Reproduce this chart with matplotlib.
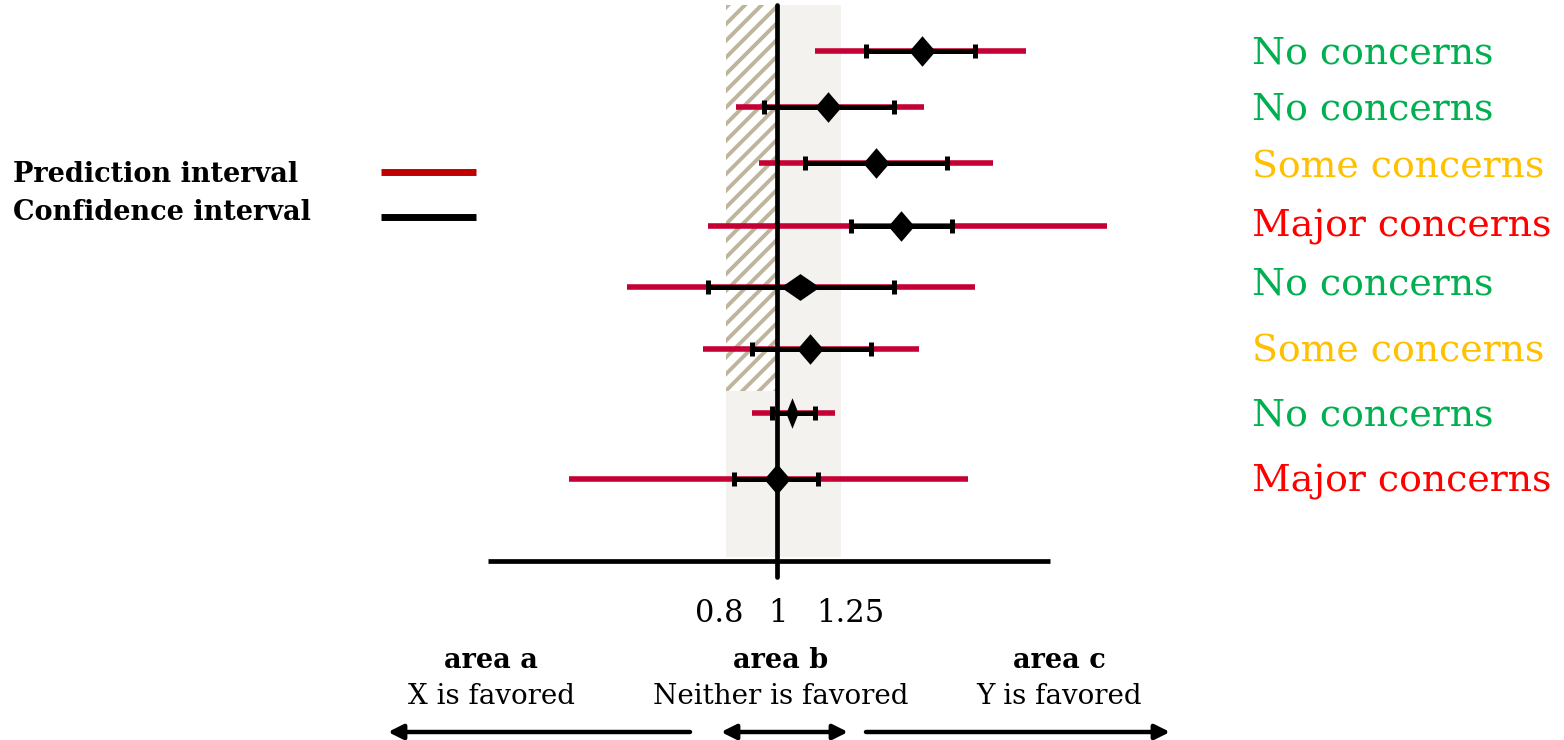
import matplotlib
matplotlib.use("Agg")
import matplotlib.pyplot as plt
from matplotlib.patches import Rectangle, FancyArrowPatch
from matplotlib.path import Path

# ---------------- data ----------------
labels = ["No concerns", "No concerns", "Some concerns", "Major concerns",
          "No concerns", "Some concerns", "No concerns", "Major concerns"]
label_colors = ["#00B050", "#00B050", "#FFC000", "#FF0000",
                "#00B050", "#FFC000", "#00B050", "#FF0000"]
est = [1.57, 1.20, 1.39, 1.49, 1.09, 1.13, 1.06, 1.00]
ci_lo = [1.35, 0.95, 1.11, 1.29, 0.73, 0.90, 0.98, 0.83]
ci_hi = [1.78, 1.46, 1.67, 1.69, 1.46, 1.37, 1.15, 1.16]
pi_lo = [1.15, 0.84, 0.93, 0.73, 0.41, 0.71, 0.90, 0.18]
pi_hi = [1.98, 1.58, 1.85, 2.30, 1.78, 1.56, 1.23, 1.75]
tick_vals = [0.8, 1.0, 1.25]
tick_labels = ["0.8", "1", "1.25"]
equiv_lo, equiv_hi = 0.8, 1.25

# ---------------- layout / style ----------------
W, H = 1564, 740
row_y = [0.0, 0.92, 1.84, 2.87, 3.87, 4.87, 5.93, 7.0]   # row positions (row units)
diamond_hw = [0.86, 0.86, 0.86, 0.86, 1.45, 0.86, 0.40, 0.86]  # width/height ratio
PX_PER_UNIT = 254.0
X_ONE_PX = 777.0
ROW_PX = 61.1
ROW0_PX = 51.0

plt.rcParams["font.family"] = ["DejaVu Serif"]
plt.rcParams["hatch.linewidth"] = 2.8

fig = plt.figure(figsize=(W / 100, H / 100), dpi=100)
ax = fig.add_axes([0, 0, 1, 1])
ax.set_xlim(1 - X_ONE_PX / PX_PER_UNIT, 1 + (W - X_ONE_PX) / PX_PER_UNIT)
ax.set_ylim((H - ROW0_PX) / ROW_PX, -ROW0_PX / ROW_PX)
ax.axis("off")

def ry(px):  # pixel y -> row units
    return (px - ROW0_PX) / ROW_PX

def dx(px):  # pixel x -> data units
    return 1 + (px - X_ONE_PX) / PX_PER_UNIT

def fx(px):
    return px / W

def fy(py):
    return 1 - py / H

red = "#C50034"

# shaded equivalence region
ax.add_patch(Rectangle((equiv_lo, ry(5)), equiv_hi - equiv_lo, ry(557) - ry(5),
                       facecolor="#F3F2EE", edgecolor="none", zorder=0))
ax.add_patch(Rectangle((equiv_lo, ry(5)), 1.0 - equiv_lo, ry(391) - ry(5),
                       facecolor="white", edgecolor="#BFB49C", linewidth=0,
                       hatch="//", zorder=0.5))

# prediction intervals
ax.hlines(row_y, pi_lo, pi_hi, color=red, linewidth=4.0, zorder=2)

# vertical line at 1
ax.plot([1, 1], [ry(5), ry(577)], color="black", linewidth=3.4,
        solid_capstyle="round", zorder=3)
# axis line
ax.plot([dx(488), dx(1050)], [ry(561), ry(561)], color="black",
        linewidth=3.4, solid_capstyle="butt", zorder=3)

# confidence intervals
for i in range(len(est)):
    ax.errorbar(est[i], row_y[i],
                xerr=[[est[i] - ci_lo[i]], [ci_hi[i] - est[i]]],
                fmt="none", ecolor="black", elinewidth=3.6,
                capsize=4.8, capthick=3.6, zorder=4)

# diamonds
for i in range(len(est)):
    r = diamond_hw[i]
    if r <= 1:
        verts = [(0, 1), (r, 0), (0, -1), (-r, 0), (0, 1)]
        ms = 22
    else:
        verts = [(1, 0), (0, 1 / r), (-1, 0), (0, -1 / r), (1, 0)]
        ms = 28
    mk = Path(verts, [Path.MOVETO, Path.LINETO, Path.LINETO, Path.LINETO, Path.CLOSEPOLY])
    ax.plot([est[i]], [row_y[i]], marker=mk, markersize=ms, color="black",
            markeredgewidth=0, linestyle="none", zorder=5)

# tick labels
tick_offsets = [-7, 1, 10]
for v, t, off in zip(tick_vals, tick_labels, tick_offsets):
    px = X_ONE_PX + (v - 1) * PX_PER_UNIT + off
    fig.text(fx(px), fy(613), t, ha="center", va="center", fontsize=22)

# right labels
label_px = [53, 110, 167, 227, 285, 352, 415, 482]
for t, c, py in zip(labels, label_colors, label_px):
    fig.text(fx(1252), fy(py), t, ha="left", va="center", fontsize=27.3, color=c)

# legend
fig.text(fx(13), fy(175), "Prediction interval", ha="left", va="center",
         fontsize=19.5, fontweight="bold")
fig.text(fx(13), fy(213), "Confidence interval", ha="left", va="center",
         fontsize=19.5, fontweight="bold")
fig.add_artist(plt.Line2D([fx(381), fx(476)], [fy(172), fy(172)],
                          color="#C00000", linewidth=5, solid_capstyle="butt"))
fig.add_artist(plt.Line2D([fx(381), fx(476)], [fy(217), fy(217)],
                          color="black", linewidth=5, solid_capstyle="butt"))

# area labels
areas = [("area a", "X is favored", 491), ("area b", "Neither is favored", 781),
         ("area c", "Y is favored", 1059)]
for a, d, cx in areas:
    fig.text(fx(cx), fy(661), a, ha="center", va="center", fontsize=19.5,
             fontweight="bold")
    fig.text(fx(cx), fy(697), d, ha="center", va="center", fontsize=20)

# arrows
arrows = [(690, 388, "-|>"), (721, 848, "<|-|>"), (866, 1170, "-|>")]
for x0, x1, st in arrows:
    fig.add_artist(FancyArrowPatch((fx(x0), fy(732)), (fx(x1), fy(732)),
                                   transform=fig.transFigure, arrowstyle=st,
                                   mutation_scale=22, linewidth=3.2,
                                   color="black", shrinkA=0, shrinkB=0))

fig.savefig("out.png", dpi=100)
